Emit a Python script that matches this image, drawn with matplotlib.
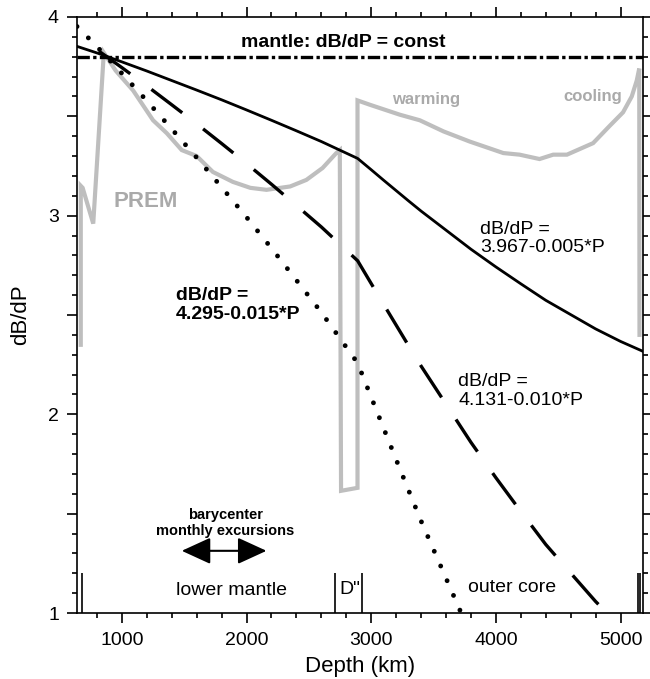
import matplotlib
matplotlib.use("Agg")
import matplotlib.pyplot as plt
from matplotlib.ticker import MultipleLocator, FuncFormatter

plt.rcParams["font.family"] = ["Liberation Sans", "DejaVu Sans"]

# ---- data ----
# depth grid (km) for the three pressure-fit curves
depth = [640, 800, 1000, 1200, 1400, 1600, 1800, 2000, 2200, 2400, 2600, 2891,
         3000, 3100, 3200, 3300, 3400, 3600, 3800, 4000, 4200, 4400, 4600, 4800,
         5000, 5180]
# dB/dP = 3.967-0.005*P  (solid)
fit_005 = [3.852, 3.819, 3.774, 3.728, 3.680, 3.632, 3.583, 3.532, 3.480, 3.427,
           3.373, 3.288, 3.231, 3.178, 3.126, 3.074, 3.023, 2.927, 2.831, 2.742,
           2.657, 2.574, 2.502, 2.430, 2.367, 2.317]
# dB/dP = 4.131-0.010*P  (dashed)
fit_010 = [3.902, 3.835, 3.745, 3.653, 3.558, 3.462, 3.363, 3.262, 3.158, 3.051,
           2.943, 2.773, 2.658, 2.553, 2.449, 2.345, 2.243, 2.051, 1.859, 1.681,
           1.511, 1.345, 1.201, 1.058, 0.931, 0.82]
# dB/dP = 4.295-0.015*P  (dotted), only down to the bottom of the plot
fit_015 = [3.952, 3.851, 3.716, 3.578, 3.436, 3.292, 3.143, 2.992, 2.836, 2.675,
           2.513, 2.258, 2.086, 1.929, 1.772, 1.617, 1.463, 1.175, 0.887]
mantle_const = 3.8

# PREM dB/dP vs depth
prem_depth = [670, 670, 685, 770, 855, 950, 1090, 1250, 1360, 1480, 1600, 1730,
              1890, 2030, 2160, 2350, 2480, 2610, 2720, 2748, 2758, 2890, 2890,
              2990, 3230, 3390, 3580, 3790, 4060, 4190, 4350, 4460, 4570, 4780,
              4910, 5020, 5090, 5130, 5150, 5152]
prem_val = [2.35, 3.15, 3.14, 2.96, 3.82, 3.73, 3.63, 3.48, 3.415, 3.33, 3.30, 3.22,
            3.17, 3.14, 3.13, 3.147, 3.18, 3.24, 3.315, 3.33, 1.615, 1.63, 3.58,
            3.558, 3.508, 3.48, 3.424, 3.373, 3.315, 3.307, 3.285, 3.307, 3.307, 3.365,
            3.45, 3.52, 3.60, 3.68, 3.74, 2.40]

# layer boundaries marked at the bottom, and barycenter excursion range
boundary_depths = [680, 2710, 2930, 5140, 5160]
excursion = [1480, 2160]

# ---- figure ----
fig = plt.figure(figsize=(6.5, 6.79), dpi=100)
ax = fig.add_axes([0.1185, 0.0972, 0.8707, 0.8778])

gray = "#bebebe"
ax.plot(prem_depth, prem_val, color=gray, lw=3.0, zorder=1, solid_joinstyle="miter")
ax.axhline(mantle_const, color="black", lw=2.4, linestyle=(0, (3.7, 1.0, 1.0, 1.0)))
ax.plot(depth, fit_005, color="black", lw=2.0)
ax.plot(depth, fit_010, color="black", lw=2.4, linestyle=(11.6, (11.6, 7.9)))
ax.plot(depth[:len(fit_015)], fit_015, color="black", lw=3.5,
        linestyle=(0, (0.001, 3.3)), dash_capstyle="round")

ax.vlines(boundary_depths, 1.0, 1.2, color="black", lw=1.2)
ax.annotate("", xy=(excursion[1], 1.313), xytext=(excursion[0], 1.313),
            arrowprops=dict(arrowstyle="<|-|>,head_length=1.2,head_width=0.55",
                            mutation_scale=15, color="black", lw=1.5,
                            shrinkA=0, shrinkB=0))

# ---- text ----
ax.text(2776, 3.874, "mantle: dB/dP = const", fontsize=14, fontweight="bold",
        ha="center", va="center")
ax.text(1191, 3.07, "PREM", fontsize=16, fontweight="bold", color="#aaaaaa",
        ha="center", va="center")
ax.text(3443, 3.583, "warming", fontsize=12, fontweight="bold", color="#aaaaaa",
        ha="center", va="center")
ax.text(4777, 3.60, "cooling", fontsize=12, fontweight="bold", color="#aaaaaa",
        ha="center", va="center")
ax.text(3871, 2.885, "dB/dP =\n3.967-0.005*P", fontsize=14, ha="left",
        va="center", linespacing=1.15)
ax.text(1430, 2.549, "dB/dP =\n4.295-0.015*P", fontsize=14, fontweight="bold",
        ha="left", va="center", linespacing=1.15)
ax.text(3700, 2.117, "dB/dP =\n4.131-0.010*P", fontsize=14, ha="left",
        va="center", linespacing=1.15)
ax.text(1828, 1.452, "barycenter\nmonthly excursions", fontsize=10.5,
        fontweight="bold", ha="center", va="center", linespacing=1.15)
ax.text(1882, 1.112, "lower mantle", fontsize=14, ha="center", va="center")
ax.text(2828, 1.12, 'D"', fontsize=14, ha="center", va="center")
ax.text(4131, 1.13, "outer core", fontsize=14, ha="center", va="center")

# ---- axes ----
ax.set_xlim(640, 5180)
ax.set_ylim(1, 4)
ax.xaxis.set_major_locator(MultipleLocator(1000))
ax.xaxis.set_minor_locator(MultipleLocator(200))
ax.yaxis.set_major_locator(MultipleLocator(0.5))
ax.yaxis.set_minor_locator(MultipleLocator(0.1))
ax.yaxis.set_major_formatter(FuncFormatter(
    lambda v, p: f"{v:.0f}" if abs(v - round(v)) < 1e-6 else ""))
ax.tick_params(which="both", direction="out", top=True, right=True,
               width=1.2, labelsize=14)
ax.tick_params(axis="x", pad=7)
ax.tick_params(axis="y", pad=6)
ax.tick_params(which="major", length=7)
ax.tick_params(which="minor", length=3.6)
for s in ax.spines.values():
    s.set_linewidth(1.2)
ax.set_xlabel("Depth (km)", fontsize=16, labelpad=5)
ax.set_ylabel("dB/dP", fontsize=16, labelpad=12)

fig.savefig("out.png", dpi=100)
